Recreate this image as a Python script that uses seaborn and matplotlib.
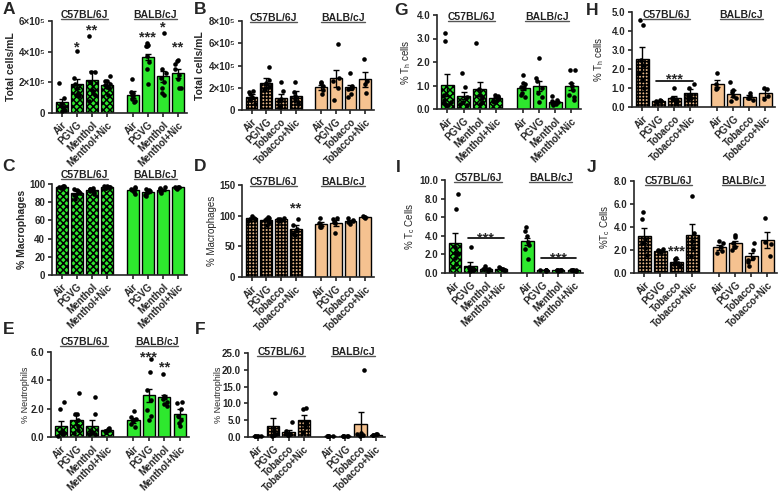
import matplotlib
matplotlib.use("Agg")
import matplotlib.pyplot as plt
import matplotlib.transforms as mtransforms
from matplotlib.lines import Line2D
import numpy as np
import pandas as pd
import seaborn as sns

sns.set_style("ticks")
plt.rcParams["font.family"] = ["Liberation Sans", "DejaVu Sans"]
plt.rcParams["mathtext.default"] = "regular"
plt.rcParams["hatch.linewidth"] = 1.1

# ---------------- data ----------------
strains = ["C57BL/6J", "BALB/cJ"]
menthol_groups = ["Air", "PGVG", "Menthol", "Menthol+Nic"]
tobacco_groups = ["Air", "PGVG", "Tobacco", "Tobacco+Nic"]
tobacco_groups_b = ["Air", "PG/VG", "Tobacco", "Tobacco+Nic"]

# A: total cells (x10^5), menthol
A_mean = [0.70, 1.91, 2.13, 1.80, 1.20, 3.65, 2.39, 2.60]
A_sem = [0.23, 0.33, 0.60, 0.20, 0.22, 0.22, 0.35, 0.30]
A_pts = [[1.95, 0.95, 0.60, 0.40, 0.20, 0.10],
         [4.05, 2.30, 1.90, 1.60, 1.30, 1.10, 1.20],
         [5.00, 2.70, 2.65, 2.00, 1.50, 1.20, 0.80, 1.30],
         [2.40, 2.10, 2.10, 1.90, 1.80, 1.70, 1.60, 1.20],
         [2.20, 1.40, 1.30, 1.20, 1.10, 0.90, 0.80, 0.70],
         [4.55, 4.45, 4.40, 4.40, 3.70, 3.30, 2.90, 1.90],
         [5.20, 2.90, 2.60, 2.30, 2.00, 1.60, 1.30, 1.20],
         [3.45, 3.40, 3.20, 2.90, 2.50, 2.20, 1.60, 1.60]]

# B: total cells (x10^5), tobacco
B_mean = [1.20, 2.45, 1.10, 1.28, 2.03, 2.84, 2.03, 2.75]
B_sem = [0.20, 0.40, 0.30, 0.45, 0.20, 0.75, 0.25, 0.68]
B_pts = [[1.70, 1.60, 1.40, 1.20, 0.90, 0.50],
         [3.85, 2.70, 2.40, 2.10, 1.80, 1.90],
         [2.50, 1.70, 1.00, 0.80, 0.30, 0.40],
         [2.55, 1.60, 1.30, 1.00, 0.50, 0.70],
         [2.50, 2.40, 2.20, 1.80, 1.40],
         [5.95, 2.90, 2.60, 2.00, 0.90],
         [3.35, 2.20, 2.00, 1.90, 1.40, 1.20],
         [4.60, 2.60, 2.30, 1.50]]

# C: % macrophages, menthol
C_mean = [97.0, 90.5, 93.5, 96.8, 93.4, 91.4, 93.8, 96.2]
C_sem = [0.5, 1.4, 1.0, 0.5, 1.2, 1.0, 1.0, 0.4]
C_pts = [[98, 97.5, 97, 96.5, 96, 97],
         [94, 93, 92, 91, 90, 88, 83],
         [96, 95, 94, 93, 92, 91, 89],
         [98, 97.5, 97, 96.5, 96, 95.5],
         [97, 96, 95, 93, 91, 89],
         [94, 93, 92, 91, 89, 88, 87],
         [97, 96, 94, 93, 92, 90],
         [97, 97, 96.5, 96, 95.5, 95]]

# D: % macrophages, tobacco
D_mean = [95.5, 92.7, 93.8, 79.0, 86.0, 88.4, 91.4, 98.0]
D_sem = [1.3, 2.2, 0.9, 5.0, 3.3, 4.7, 1.7, 0.5]
D_pts = [[99, 97, 95, 94, 92],
         [98, 97, 95, 92, 90, 84],
         [96, 95, 94, 93, 91],
         [95, 85, 78, 70, 68],
         [96, 88, 84, 81, 81],
         [97, 95, 90, 88, 72],
         [96, 93, 92, 90, 86],
         [99, 98, 98, 97]]

# E: % neutrophils, menthol
E_mean = [0.78, 1.18, 0.80, 0.47, 1.18, 2.94, 2.82, 1.65]
E_sem = [0.35, 0.35, 0.38, 0.05, 0.18, 0.47, 0.12, 0.30]
E_pts = [[2.50, 2.00, 0.40, 0.30, 0.20, 0.10, 0.30],
         [3.10, 1.65, 1.60, 1.20, 0.80, 0.50, 0.30],
         [2.85, 1.60, 0.40, 0.30, 0.20, 0.20],
         [0.65, 0.60, 0.50, 0.45, 0.40, 0.35],
         [1.85, 1.40, 1.30, 1.20, 1.10, 0.90, 0.70],
         [5.50, 4.60, 3.30, 2.60, 1.90, 1.50, 1.20],
         [4.45, 2.90, 2.80, 2.70, 2.50, 2.30, 2.20],
         [2.50, 2.40, 2.00, 1.50, 1.20, 0.80, 1.00]]

# F: % neutrophils, tobacco
F_mean = [0.30, 3.20, 1.40, 5.16, 0.30, 0.35, 4.00, 0.70]
F_sem = [0.05, 2.45, 0.60, 1.50, 0.05, 0.05, 3.30, 0.10]
F_pts = [[0.40, 0.30, 0.30, 0.20, 0.30],
         [13.2, 2.00, 1.00, 0.50, 0.30],
         [4.40, 1.80, 1.20, 0.80, 0.50, 0.50],
         [8.70, 8.30, 4.50, 3.00, 1.50],
         [0.40, 0.30, 0.30, 0.20, 0.30],
         [0.40, 0.40, 0.30, 0.30, 0.35],
         [20.0, 1.20, 0.80, 0.50, 0.30],
         [1.00, 0.80, 0.60, 0.50]]

# G: % Th cells, menthol
G_mean = [1.02, 0.57, 0.85, 0.45, 0.90, 0.99, 0.31, 0.96]
G_sem = [0.46, 0.15, 0.28, 0.05, 0.10, 0.21, 0.05, 0.14]
G_pts = [[3.25, 2.90, 0.60, 0.40, 0.30, 0.20, 0.15, 0.20],
         [1.52, 0.95, 0.50, 0.30, 0.20, 0.15],
         [2.80, 0.85, 0.60, 0.45, 0.30, 0.20],
         [0.60, 0.55, 0.50, 0.45, 0.40, 0.35, 0.30],
         [1.45, 1.10, 1.05, 0.95, 0.90, 0.70, 0.50, 0.60],
         [2.15, 1.30, 1.20, 0.90, 0.70, 0.50, 0.30],
         [0.55, 0.40, 0.35, 0.30, 0.25, 0.20, 0.15],
         [1.65, 1.65, 1.10, 1.00, 0.80, 0.60, 0.50, 0.40]]

# H: % Th cells, tobacco
H_mean = [2.53, 0.30, 0.47, 0.75, 1.23, 0.70, 0.53, 0.74]
H_sem = [0.65, 0.03, 0.10, 0.20, 0.20, 0.18, 0.10, 0.20]
H_pts = [[4.60, 4.30, 2.50, 2.20, 1.80, 1.40, 1.00],
         [0.35, 0.30, 0.30, 0.25, 0.30],
         [1.00, 0.50, 0.40, 0.30, 0.20],
         [1.20, 1.00, 0.60, 0.40, 0.50],
         [1.80, 1.20, 1.00, 0.95],
         [1.30, 0.90, 0.80, 0.60, 0.50, 0.30],
         [0.75, 0.60, 0.50, 0.45, 0.35],
         [1.00, 0.95, 0.60, 0.40]]

# I: % Tc cells, menthol
I_mean = [3.20, 0.80, 0.43, 0.43, 3.40, 0.30, 0.30, 0.30]
I_sem = [1.05, 0.35, 0.06, 0.04, 0.35, 0.02, 0.02, 0.02]
I_pts = [[8.50, 6.90, 2.80, 2.20, 1.60, 1.00, 0.60, 2.00],
         [2.80, 0.60, 0.40, 0.30, 0.30, 0.20],
         [0.70, 0.50, 0.45, 0.40, 0.30, 0.25],
         [0.60, 0.50, 0.45, 0.40, 0.35, 0.30],
         [5.00, 4.50, 4.00, 3.30, 3.00, 2.60, 1.50],
         [0.35, 0.30, 0.30, 0.25, 0.30, 0.30],
         [0.35, 0.30, 0.30, 0.25, 0.30, 0.30],
         [0.35, 0.30, 0.30, 0.25, 0.30, 0.30]]

# J: % Tc cells, tobacco
J_mean = [3.22, 1.93, 0.95, 3.34, 2.24, 2.60, 1.44, 2.88]
J_sem = [0.65, 0.08, 0.25, 0.92, 0.20, 0.22, 0.33, 0.72]
J_pts = [[5.30, 4.70, 3.00, 2.60, 2.20, 1.60],
         [2.05, 2.00, 1.95, 1.90, 1.80],
         [1.30, 1.20, 1.00, 0.80, 0.60, 0.90],
         [6.70, 3.50, 2.80, 2.20, 1.50],
         [2.75, 2.60, 2.30, 1.90, 1.70],
         [3.30, 3.10, 2.60, 2.30, 2.00, 2.30],
         [2.60, 2.00, 1.30, 1.00, 0.60, 1.10],
         [4.80, 2.70, 2.50, 1.50]]

# significance: (bar index, y, text) and lines (first bar, last bar, y)
A_stars = [(1, 4.5e5, "*"), (2, 5.6e5, "**"), (5, 5.15e5, "***"), (6, 5.8e5, "*"), (7, 4.5e5, "**")]
C_stars = [(1, 101.5, "***")]
D_stars = [(3, 117, "**")]
E_stars = [(5, 5.9, "***"), (6, 5.2, "**")]
H_stars = [(2, 1.65, "***")]
H_lines = [(1, 3, 1.35)]
I_stars = [(2, 4.15, "***"), (6, 2.0, "***")]
I_lines = [(1, 3, 3.75), (5, 7, 1.6)]
J_stars = [(2, 2.15, "***")]

# ---------------- layout ----------------
W, H = 780, 492
GAP = 4.7
POS = np.array([0, 1, 2, 3, GAP, GAP + 1, GAP + 2, GAP + 3])

STYLE = {
    "menthol": {"C57BL/6J": ("#2ee82e", "xxxxx"), "BALB/cJ": ("#2ee82e", None)},
    "tobacco": {"C57BL/6J": ("#e8b887", "+++++"), "BALB/cJ": ("#f5c290", None)},
}

e5 = ["0", "2×10⁵", "4×10⁵", "6×10⁵", "8×10⁵"]

PANELS = {
    "A": dict(mean=A_mean, sem=A_sem, pts=A_pts, scale=1e5, groups=menthol_groups, kind="menthol",
              ylabel="Total cells/mL", ylim=(0, 6e5), yticks=[0, 2e5, 4e5, 6e5], yticklabels=e5[:4],
              stars=A_stars, lines=[], box=(52, 187, 21, 113), ylab=(-0.27, 7.5, "bold"),
              strain_y=15, letter=(3, 2)),
    "B": dict(mean=B_mean, sem=B_sem, pts=B_pts, scale=1e5, groups=tobacco_groups_b, kind="tobacco",
              ylabel="Total cells/mL", ylim=(0, 8e5), yticks=[0, 2e5, 4e5, 6e5, 8e5], yticklabels=e5,
              stars=[], lines=[], box=(242, 374, 21, 110), ylab=(-0.28, 7.5, "bold"),
              strain_y=18, letter=(194, 2)),
    "C": dict(mean=C_mean, sem=C_sem, pts=C_pts, scale=1, groups=menthol_groups, kind="menthol",
              ylabel="% Macrophages", ylim=(0, 100), yticks=[0, 20, 40, 60, 80, 100],
              yticklabels=["0", "20", "40", "60", "80", "100"],
              stars=C_stars, lines=[], box=(52, 187, 184, 275), ylab=(-0.185, 7.5, "bold"),
              strain_y=175, letter=(2, 159)),
    "D": dict(mean=D_mean, sem=D_sem, pts=D_pts, scale=1, groups=tobacco_groups, kind="tobacco",
              ylabel="% Macrophages", ylim=(0, 150), yticks=[0, 50, 100, 150],
              yticklabels=["0", "50", "100", "150"],
              stars=D_stars, lines=[], box=(242, 374, 185, 277), ylab=(-0.19, 7, "normal"),
              strain_y=182, letter=(194, 159)),
    "E": dict(mean=E_mean, sem=E_sem, pts=E_pts, scale=1, groups=menthol_groups, kind="menthol",
              ylabel="% Neutrophils", ylim=(0, 6), yticks=[0, 2, 4, 6],
              yticklabels=["0.0", "2.0", "4.0", "6.0"],
              stars=E_stars, lines=[], box=(51, 189, 352, 437), ylab=(-0.155, 6.5, "normal"),
              strain_y=342, letter=(3, 322)),
    "F": dict(mean=F_mean, sem=F_sem, pts=F_pts, scale=1, groups=tobacco_groups, kind="tobacco",
              ylabel="% Neutrophils", ylim=(0, 25), yticks=[0, 5, 10, 15, 20, 25],
              yticklabels=["0.0", "5.0", "10.0", "15.0", "20.0", "25.0"],
              stars=[], lines=[], box=(248, 385, 353, 437), ylab=(-0.18, 6.5, "normal"),
              strain_y=352, letter=(195, 322)),
    "G": dict(mean=G_mean, sem=G_sem, pts=G_pts, scale=1, groups=menthol_groups, kind="menthol",
              ylabel="% T$_h$ cells", ylim=(0, 4), yticks=[0, 1, 2, 3, 4],
              yticklabels=["0.0", "1.0", "2.0", "3.0", "4.0"],
              stars=[], lines=[], box=(437, 581, 15, 109), ylab=(-0.17, 7, "normal"),
              strain_y=17, letter=(394, 3)),
    "H": dict(mean=H_mean, sem=H_sem, pts=H_pts, scale=1, groups=tobacco_groups, kind="tobacco",
              ylabel="% T$_h$ cells", ylim=(0, 5), yticks=[0, 1, 2, 3, 4, 5],
              yticklabels=["0.0", "1.0", "2.0", "3.0", "4.0", "5.0"],
              stars=H_stars, lines=H_lines, box=(632, 775, 12, 107), ylab=(-0.18, 7, "normal"),
              strain_y=15, letter=(586, 3)),
    "I": dict(mean=I_mean, sem=I_sem, pts=I_pts, scale=1, groups=menthol_groups, kind="menthol",
              ylabel="% T$_c$ Cells", ylim=(0, 10), yticks=[0, 2, 4, 6, 8, 10],
              yticklabels=["0.0", "2.0", "4.0", "6.0", "8.0", "10.0"],
              stars=I_stars, lines=I_lines, box=(445, 583, 180, 273), ylab=(-0.20, 7, "normal"),
              strain_y=178, letter=(396, 160)),
    "J": dict(mean=J_mean, sem=J_sem, pts=J_pts, scale=1, groups=tobacco_groups, kind="tobacco",
              ylabel="%T$_c$ Cells", ylim=(0, 8), yticks=[0, 2, 4, 6, 8],
              yticklabels=["0.0", "2.0", "4.0", "6.0", "8.0"],
              stars=J_stars, lines=[], box=(634, 777, 181, 273), ylab=(-0.155, 7, "normal"),
              strain_y=181, letter=(587, 160)),
}

fig = plt.figure(figsize=(W / 100, H / 100), dpi=100)
np.random.seed(7)
strain_texts = []


def draw_panel(letter, p):
    l, r, t, b = p["box"]
    ax = fig.add_axes([l / W, 1 - b / H, (r - l) / W, (b - t) / H])

    bars = pd.DataFrame({
        "pos": POS,
        "mean": np.array(p["mean"]) * p["scale"],
        "sem": np.array(p["sem"]) * p["scale"],
        "strain": np.repeat(strains, 4),
    })
    for s in strains:
        color, hatch = STYLE[p["kind"]][s]
        sns.barplot(data=bars[bars["strain"] == s], x="pos", y="mean", native_scale=True,
                    errorbar=None, color=color, saturation=1, hatch=hatch, width=0.8,
                    edgecolor="black", linewidth=1, ax=ax, zorder=2)

    ax.errorbar(bars["pos"], bars["mean"], yerr=bars["sem"], fmt="none", ecolor="black",
                elinewidth=1, capsize=2.5, capthick=1, zorder=3)

    dots = pd.DataFrame([(x, v * p["scale"]) for x, vals in zip(POS, p["pts"]) for v in vals],
                        columns=["pos", "value"])
    sns.stripplot(data=dots, x="pos", y="value", native_scale=True, color="black", size=3.3,
                  jitter=0.22, ax=ax, zorder=4, clip_on=False)

    ax.set_xlim(-0.65, GAP + 3.6)
    ax.set_ylim(*p["ylim"])
    ax.set_yticks(p["yticks"], labels=p["yticklabels"], fontsize=7, fontweight="bold")
    ax.set_xticks(POS, labels=p["groups"] * 2, rotation=45, ha="right",
                  rotation_mode="anchor", fontsize=7, fontweight="bold")
    ax.set_xlabel("")
    lx, lsize, lweight = p["ylab"]
    ax.set_ylabel(p["ylabel"], fontsize=lsize, fontweight=lweight)
    ax.yaxis.set_label_coords(lx, 0.5)
    sns.despine(ax=ax)
    for side in ["left", "bottom"]:
        ax.spines[side].set_linewidth(1.2)
    ax.tick_params(width=1.2, length=3, pad=2)

    for i, y, txt in p["stars"]:
        ax.annotate(txt, (POS[i], y), xytext=(0, -5.5), textcoords="offset points",
                    ha="center", va="baseline", fontsize=10.5, fontweight="bold")
    for i0, i1, y in p["lines"]:
        ax.plot([POS[i0] - 0.15, POS[i1] + 0.15], [y, y], color="black", lw=1.2, clip_on=False)

    trans = mtransforms.blended_transform_factory(ax.transData, fig.transFigure)
    for cx, s in zip([1.5, GAP + 1.5], strains):
        strain_texts.append(ax.text(cx, 1 - p["strain_y"] / H, s, transform=trans, ha="center",
                                    va="center", fontsize=7.5, fontweight="bold", color="#222222"))

    lxp, lyp = p["letter"]
    fig.text(lxp / W, 1 - lyp / H, letter, fontsize=12.5, fontweight="bold", va="top", ha="left")


for letter, p in PANELS.items():
    draw_panel(letter, p)

# underline the strain headers
fig.canvas.draw()
for t in strain_texts:
    bb = t.get_window_extent()
    y = (bb.y0 + 1.5) / H
    fig.add_artist(Line2D([bb.x0 / W, bb.x1 / W], [y, y], transform=fig.transFigure,
                          color="#555555", lw=1))

fig.savefig("out.png", dpi=100)
